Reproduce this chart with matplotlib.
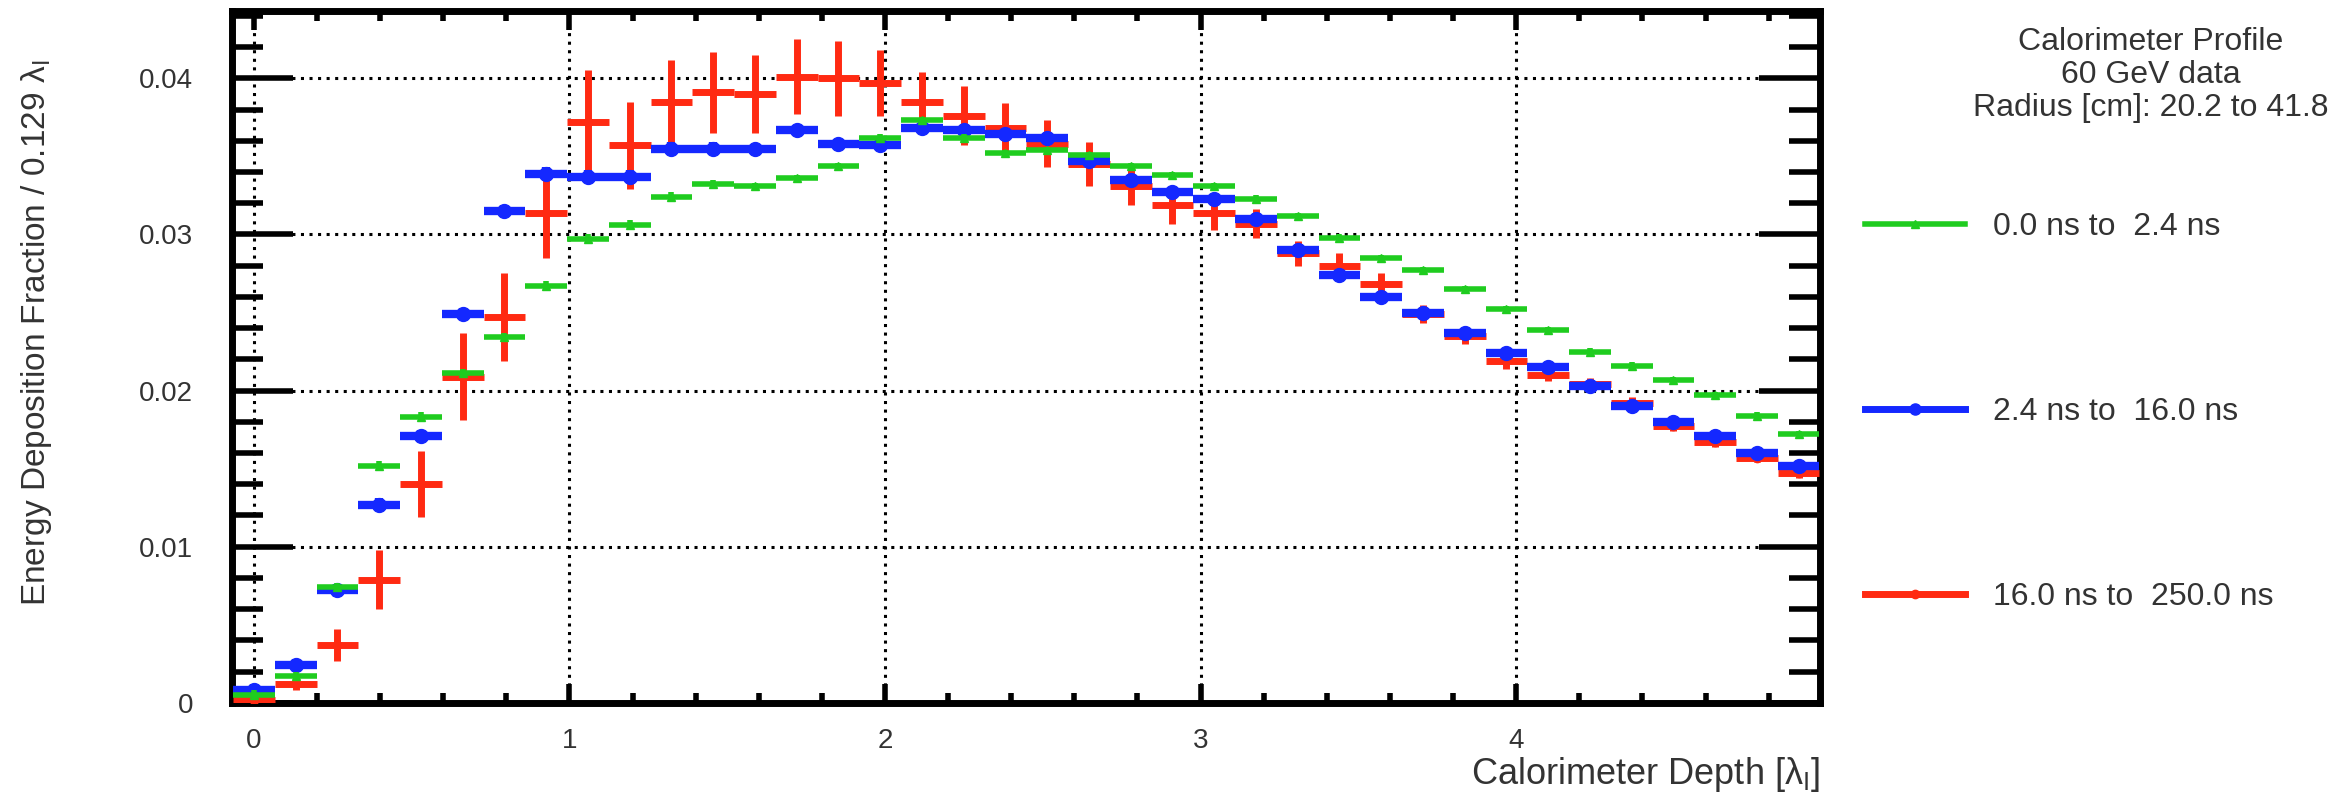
import numpy as np
import matplotlib
matplotlib.use("Agg")
import matplotlib.pyplot as plt
from matplotlib.lines import Line2D
from matplotlib.ticker import MultipleLocator

plt.rcParams['font.family'] = ['Liberation Sans', 'DejaVu Sans']

# bin layout of the depth histogram (38 bins)
bin_width = 0.1323
depth = np.arange(38) * bin_width

green_vals = [0.0005, 0.0017, 0.0074, 0.0152, 0.0183, 0.0211, 0.0234, 0.0267, 0.0297, 0.0306,
              0.0324, 0.0332, 0.0331, 0.0336, 0.0344, 0.0362, 0.0373, 0.0362, 0.0352, 0.0354,
              0.0351, 0.0344, 0.0338, 0.0331, 0.0323, 0.0312, 0.0298, 0.0285, 0.0277, 0.0265,
              0.0252, 0.0239, 0.0225, 0.0216, 0.0207, 0.0197, 0.0184, 0.0172]
blue_vals = [0.0008, 0.0024, 0.0072, 0.0127, 0.0171, 0.0249, 0.0315, 0.0339, 0.0337, 0.0337,
             0.0355, 0.0355, 0.0355, 0.0367, 0.0358, 0.0357, 0.0368, 0.0367, 0.0364, 0.0362,
             0.0347, 0.0335, 0.0327, 0.0323, 0.0310, 0.0290, 0.0274, 0.0260, 0.0250, 0.0237,
             0.0224, 0.0215, 0.0203, 0.0190, 0.0180, 0.0171, 0.0160, 0.0152]
red_vals = [0.0002, 0.0012, 0.0037, 0.0079, 0.0140, 0.0209, 0.0247, 0.0314, 0.0372, 0.0357,
            0.0385, 0.0391, 0.0390, 0.0401, 0.0400, 0.0397, 0.0385, 0.0376, 0.0368, 0.0358,
            0.0345, 0.0331, 0.0319, 0.0314, 0.0307, 0.0288, 0.0280, 0.0268, 0.0249, 0.0235,
            0.0219, 0.0210, 0.0204, 0.0192, 0.0177, 0.0167, 0.0157, 0.0147]

green_err = [0.0003] * 12 + [0.0002] * 26
blue_err = [0.0004] * 12 + [0.0003] * 10 + [0.0002] * 16
red_err = [0.0002, 0.0004, 0.0010, 0.0019, 0.0021, 0.0028, 0.0028, 0.0029, 0.0033, 0.0028,
           0.0027, 0.0026, 0.0025, 0.0024, 0.0024, 0.0021, 0.0019, 0.0019, 0.0016, 0.0015,
           0.0014, 0.0012, 0.0012, 0.0011, 0.0009, 0.0008, 0.0008, 0.0007, 0.0006, 0.0005,
           0.0005, 0.0004, 0.0004, 0.0004, 0.0003, 0.0003, 0.0003, 0.0003]

labels = ["0.0 ns to  2.4 ns", "2.4 ns to  16.0 ns", "16.0 ns to  250.0 ns"]
c_green, c_blue, c_red = "#1fcc1f", "#1428ff", "#ff2a12"
txt = '#333333'

fig = plt.figure(figsize=(23.4, 7.96), dpi=100)
ax = fig.add_axes([0.0991, 0.117, 0.6787, 0.869])

xe = bin_width / 2
ax.errorbar(depth, red_vals, xerr=xe, yerr=red_err, fmt='o', color=c_red, ms=6,
            elinewidth=5, capsize=0, zorder=3)
ax.errorbar(depth, blue_vals, xerr=xe, yerr=blue_err, fmt='o', color=c_blue, ms=10,
            elinewidth=6, capsize=0, zorder=4)
ax.errorbar(depth, green_vals, xerr=xe, yerr=green_err, fmt='^', color=c_green, ms=6,
            elinewidth=4, capsize=0, zorder=5)

ax.set_xlim(-0.0697, 4.963)
ax.set_ylim(0, 0.0443)
ax.xaxis.set_major_locator(MultipleLocator(1))
ax.xaxis.set_minor_locator(MultipleLocator(0.2))
ax.yaxis.set_major_locator(MultipleLocator(0.01))
ax.yaxis.set_minor_locator(MultipleLocator(0.002))
ax.set_xticks([0, 1, 2, 3, 4])
ax.set_xticklabels(["0", "1", "2", "3", "4"])
ax.set_yticks([0, 0.01, 0.02, 0.03, 0.04])
ax.set_yticklabels(["0", "0.01", "0.02", "0.03", "0.04"])

ax.grid(True, which='major', color='black', linestyle=(0, (1, 1.8)), linewidth=2.2, zorder=1)
ax.set_axisbelow(True)
for s in ax.spines.values():
    s.set_linewidth(5)

ax.tick_params(axis='both', which='both', direction='in', top=True, right=True,
               width=4, colors='black', labelcolor=txt, labelsize=20)
ax.tick_params(axis='y', which='major', length=44, pad=28)
ax.tick_params(axis='y', which='minor', length=22)
ax.tick_params(axis='x', which='major', length=14, pad=18)
ax.tick_params(axis='x', which='minor', length=7)

ax.set_xlabel("Calorimeter Depth [λ$_\\mathregular{I}$]", fontsize=26, color=txt, loc='right')
ax.xaxis.set_label_coords(1.0, -0.075)
ax.set_ylabel("Energy Deposition Fraction / 0.129 λ$_\\mathregular{I}$", fontsize=24,
              color=txt, loc='top')
ax.yaxis.set_label_coords(-0.112, 0.93)

fig.text(0.919, 0.906, "Calorimeter Profile\n60 GeV data\nRadius [cm]: 20.2 to 41.8",
         ha='center', va='center', fontsize=23, color=txt, linespacing=1.12)

handles = [Line2D([], [], color=c_green, lw=4, marker='^', ms=6),
           Line2D([], [], color=c_blue, lw=5, marker='o', ms=8),
           Line2D([], [], color=c_red, lw=5, marker='o', ms=6)]
fig.legend(handles, labels, loc='upper left', bbox_to_anchor=(0.7846, 0.77), frameon=False,
           fontsize=23, labelspacing=4.85, handlelength=3.13, handletextpad=0.88,
           labelcolor=txt)

fig.savefig("out.png", dpi=100)
